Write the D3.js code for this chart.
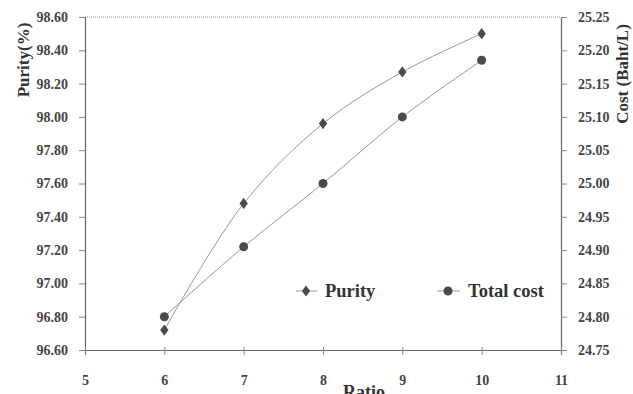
<!DOCTYPE html>
<html>
<head>
<meta charset="utf-8">
<script src="https://cdn.jsdelivr.net/npm/d3@7"></script>
<style>
  body { margin: 0; background: #fff; }
  text { font-family: "Liberation Serif", "DejaVu Serif", serif; font-weight: bold; }
</style>
</head>
<body>
<script>
// data
var ratio = [6, 7, 8, 9, 10];
var purity = [96.72, 97.48, 97.96, 98.27, 98.50];
var totalCost = [24.80, 24.905, 25.00, 25.10, 25.185];
var xTicks = [5, 6, 7, 8, 9, 10, 11];
var purityTicks = [96.6, 96.8, 97.0, 97.2, 97.4, 97.6, 97.8, 98.0, 98.2, 98.4, 98.6];
var costTicks = [24.75, 24.80, 24.85, 24.90, 24.95, 25.00, 25.05, 25.10, 25.15, 25.20, 25.25];

var width = 633, height = 394;
var mLeft = 85, mRight = 561, mTop = 17, mBottom = 350;

var svg = d3.select("body").append("svg")
    .attr("width", width)
    .attr("height", height);

var x = d3.scaleLinear().domain([5, 11]).range([mLeft, mRight]);
var yL = d3.scaleLinear().domain([96.6, 98.6]).range([mBottom, mTop]);
var yR = d3.scaleLinear().domain([24.75, 25.25]).range([mBottom, mTop]);

// top border, dotted
svg.append("line")
    .attr("x1", mLeft).attr("x2", mRight)
    .attr("y1", mTop).attr("y2", mTop)
    .attr("stroke", "#999").attr("stroke-dasharray", "1,1");

// left axis
var gL = svg.append("g")
    .attr("transform", "translate(" + mLeft + ",0)")
    .call(d3.axisLeft(yL).tickValues(purityTicks).tickSize(6).tickPadding(11)
        .tickFormat(d3.format(".2f")));

// right axis
var gR = svg.append("g")
    .attr("transform", "translate(" + mRight + ",0)")
    .call(d3.axisRight(yR).tickValues(costTicks).tickSize(6).tickPadding(11)
        .tickFormat(d3.format(".2f")));

// bottom axis
var gB = svg.append("g")
    .attr("transform", "translate(0," + mBottom + ")")
    .call(d3.axisBottom(x).tickValues(xTicks).tickSize(5).tickPadding(20)
        .tickFormat(d3.format("d")));

[gL, gR, gB].forEach(function (g) {
    g.select(".domain").attr("stroke", "#666").attr("stroke-width", 1.2);
    g.selectAll(".tick line").attr("stroke", "#888");
    g.selectAll(".tick text")
        .attr("fill", "#444")
        .style("font-size", "14px");
});
gB.selectAll(".tick line").attr("y1", -3);

// lines
var line = d3.line().curve(d3.curveCatmullRom);

svg.append("path")
    .attr("d", line(ratio.map(function (d, i) { return [x(d), yL(purity[i])]; })))
    .attr("fill", "none").attr("stroke", "#999").attr("stroke-width", 1);

svg.append("path")
    .attr("d", line(ratio.map(function (d, i) { return [x(d), yR(totalCost[i])]; })))
    .attr("fill", "none").attr("stroke", "#999").attr("stroke-width", 1);

// markers
var diamond = d3.symbol().type(d3.symbolDiamond).size(45);

svg.selectAll(".pur")
    .data(ratio)
    .enter()
    .append("path")
    .attr("class", "pur")
    .attr("transform", function (d, i) { return "translate(" + x(d) + "," + yL(purity[i]) + ") scale(1.15,0.9)"; })
    .attr("d", diamond)
    .attr("fill", "#4a4a4a");

svg.selectAll(".cost")
    .data(ratio)
    .enter()
    .append("circle")
    .attr("class", "cost")
    .attr("cx", function (d) { return x(d); })
    .attr("cy", function (d, i) { return yR(totalCost[i]); })
    .attr("r", 4.5)
    .attr("fill", "#4a4a4a");

// legend
var leg = svg.append("g");
leg.append("line").attr("x1", 296).attr("x2", 317).attr("y1", 291).attr("y2", 291).attr("stroke", "#999");
leg.append("path").attr("d", diamond).attr("transform", "translate(306,291) scale(1.15,0.9)").attr("fill", "#4a4a4a");
leg.append("text").attr("x", 325).attr("y", 297).style("font-size", "18.5px").attr("fill", "#333").text("Purity");

leg.append("line").attr("x1", 437).attr("x2", 460).attr("y1", 291).attr("y2", 291).attr("stroke", "#999");
leg.append("circle").attr("cx", 448).attr("cy", 291).attr("r", 4.5).attr("fill", "#4a4a4a");
leg.append("text").attr("x", 468).attr("y", 297).style("font-size", "18.5px").attr("fill", "#333").text("Total cost");

// axis titles
svg.append("text")
    .attr("transform", "translate(29,60) rotate(-90)")
    .attr("text-anchor", "middle")
    .style("font-size", "17px").attr("fill", "#333")
    .text("Purity(%)");

svg.append("text")
    .attr("transform", "translate(628,74) rotate(-90)")
    .attr("text-anchor", "middle")
    .style("font-size", "17px").attr("fill", "#333")
    .text("Cost (Baht/L)");

svg.append("text")
    .attr("x", 364).attr("y", 398)
    .attr("text-anchor", "middle")
    .style("font-size", "18px").attr("fill", "#333")
    .text("Ratio");
</script>
</body>
</html>
